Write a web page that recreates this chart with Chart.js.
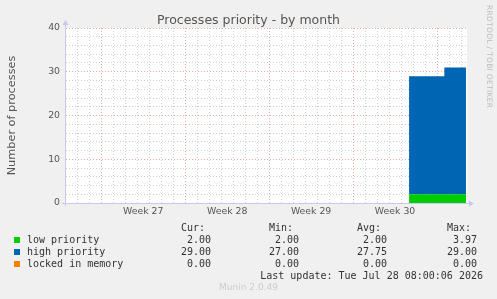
<!DOCTYPE html>
<html>
<head>
<meta charset="utf-8">
<script src="https://cdn.jsdelivr.net/npm/chart.js@4/dist/chart.umd.min.js"></script>
<style>
  body { margin: 0; background: #f0f0f0; }
  #wrap { position: relative; width: 497px; height: 299px; overflow: hidden; background: #f0f0f0; }
  #graph { position: absolute; left: 0; top: 0; }
  .txt { position: absolute; white-space: pre; }
  #title { left: 0; width: 497px; top: 12px; text-align: center; font: 12.5px "DejaVu Sans"; color: #555; }
  #credit { left: 485px; top: 5px; writing-mode: vertical-rl; font: 7.5px "DejaVu Sans"; color: #bbb; letter-spacing: 0.3px; }
  #version { left: 0; width: 497px; top: 282px; text-align: center; font: 9px "DejaVu Sans"; color: #ccc; }
  .leg { font: 10px "DejaVu Sans Mono"; color: #333; line-height: 12px; }
  .sq { position: absolute; width: 6px; height: 6px; }
</style>
</head>
<body>
<div id="wrap">
  <canvas id="graph" width="497" height="299"></canvas>
  <div class="txt" id="title">Processes priority - by month</div>
  <div class="txt" id="credit">RRDTOOL / TOBI OETIKER</div>
  <div class="txt" id="version">Munin 2.0.49</div>
  <div id="legend"></div>
</div>
<script>
// time axis in days, 0 = start of week 27 boundary (red line)
var days = [25.67, 28.61, 30.42];
var lowPriority = [2, 2, 2];
var highPriority = [27, 29, 29];
var lockedMemory = [0, 0, 0];

var weekPos = [3.5, 10.5, 17.5, 24.5];
var weekLabels = ["Week 27", "Week 28", "Week 29", "Week 30"];

var seriesNames = ["low priority", "high priority", "locked in memory"];
var seriesColors = ["#00cc00", "#0066b3", "#ff8000"];
var statCur = ["2.00", "29.00", "0.00"];
var statMin = ["2.00", "27.00", "0.00"];
var statAvg = ["2.00", "27.75", "0.00"];
var statMax = ["3.97", "29.00", "0.00"];

var X_MIN = -2.94, X_MAX = 30.5;

function pts(vals) {
  return vals.map(function (v, i) { return { x: days[i], y: v }; });
}

var axisLines = {
  id: "axisLines",
  afterDraw: function (chart) {
    var a = chart.chartArea, c = chart.ctx;
    c.save();
    c.strokeStyle = "#c8c8f0";
    c.fillStyle = "#c8c8f0";
    c.lineWidth = 1;
    c.beginPath();
    c.moveTo(a.left - 0.5, a.bottom + 3);
    c.lineTo(a.left - 0.5, a.top - 4);
    c.moveTo(a.left - 4, a.bottom + 0.5);
    c.lineTo(a.right + 3, a.bottom + 0.5);
    c.stroke();
    c.beginPath();
    c.moveTo(a.left - 3.5, a.top - 3);
    c.lineTo(a.left + 2.5, a.top - 3);
    c.lineTo(a.left - 0.5, a.top - 8);
    c.fill();
    c.beginPath();
    c.moveTo(a.right + 2, a.bottom - 2.5);
    c.lineTo(a.right + 2, a.bottom + 3.5);
    c.lineTo(a.right + 7, a.bottom + 0.5);
    c.fill();
    c.restore();
  }
};

var plotBg = {
  id: "plotBg",
  beforeDraw: function (chart) {
    var a = chart.chartArea, c = chart.ctx;
    c.save();
    c.fillStyle = "#ffffff";
    c.fillRect(a.left, a.top, a.right - a.left, a.bottom - a.top);
    c.restore();
  }
};

new Chart(document.getElementById("graph"), {
  type: "line",
  data: {
    datasets: [
      { label: seriesNames[0], data: pts(lowPriority), backgroundColor: seriesColors[0], borderWidth: 0, fill: "origin" },
      { label: seriesNames[1], data: pts(highPriority), backgroundColor: seriesColors[1], borderWidth: 0, fill: "-1" },
      { label: seriesNames[2], data: pts(lockedMemory), backgroundColor: seriesColors[2], borderWidth: 0, fill: "-1" }
    ]
  },
  plugins: [plotBg, axisLines],
  options: {
    responsive: false,
    animation: false,
    devicePixelRatio: 1,
    elements: { point: { radius: 0 }, line: { stepped: true, tension: 0 } },
    layout: { padding: { top: 28, right: 30, left: 0, bottom: 0 } },
    plugins: { legend: { display: false }, tooltip: { enabled: false }, title: { display: false } },
    scales: {
      x: {
        type: "linear", min: X_MIN, max: X_MAX, z: 1,
        afterBuildTicks: function (axis) {
          var t = [];
          for (var d = -2; d <= 30; d++) t.push({ value: d });
          axis.ticks = t;
        },
        afterFit: function (axis) { axis.height = 0; },
        ticks: { display: false, autoSkip: false },
        grid: {
          drawTicks: false,
          color: function (ctx) {
            return ctx.tick && ctx.tick.value % 7 === 0 ? "rgba(225,110,110,0.6)" : "rgba(150,150,150,0.45)";
          }
        },
        border: { display: false, dash: [1, 2] }
      },
      x2: {
        type: "linear", position: "bottom", min: X_MIN, max: X_MAX,
        afterBuildTicks: function (axis) {
          axis.ticks = weekPos.map(function (v) { return { value: v }; });
        },
        afterFit: function (axis) { axis.height = 96; },
        ticks: {
          autoSkip: false, maxRotation: 0, padding: 3,
          color: "#555", font: { family: "DejaVu Sans", size: 9.33 },
          callback: function (v, i) { return weekLabels[i]; }
        },
        grid: { display: false, drawTicks: false },
        border: { display: false }
      },
      y: {
        stacked: true, min: 0, max: 40, z: 1,
        afterFit: function (axis) { axis.width = 66; },
        ticks: {
          stepSize: 2, padding: 6, color: "#555", autoSkip: false,
          font: { family: "DejaVu Sans", size: 9.33 },
          callback: function (v) { return v % 10 === 0 ? String(v) : ""; }
        },
        grid: {
          drawTicks: false,
          color: function (ctx) {
            return ctx.tick && ctx.tick.value % 10 === 0 ? "rgba(225,110,110,0.6)" : "rgba(150,150,150,0.45)";
          }
        },
        border: { display: false, dash: [1, 2] },
        title: {
          display: true, text: "Number of processes", color: "#555",
          font: { family: "DejaVu Sans", size: 11.3 }, padding: { top: 5, bottom: 0 }
        }
      }
    }
  }
});

// legend table below the plot
var leg = document.getElementById("legend");
function addText(txt, right, top) {
  var d = document.createElement("div");
  d.className = "txt leg";
  d.textContent = txt;
  d.style.right = (497 - right) + "px";
  d.style.top = top + "px";
  leg.appendChild(d);
}
var colRight = [211, 299, 387, 477];
var heads = ["Cur: ", "Min: ", "Avg: ", "Max: "];
heads.forEach(function (h, i) { addText(h, colRight[i], 222); });
seriesNames.forEach(function (name, r) {
  var top = 234 + r * 12;
  var sq = document.createElement("div");
  sq.className = "sq";
  sq.style.left = "14px";
  sq.style.top = (top + 3) + "px";
  sq.style.background = seriesColors[r];
  leg.appendChild(sq);
  var n = document.createElement("div");
  n.className = "txt leg";
  n.textContent = name;
  n.style.left = "27px";
  n.style.top = top + "px";
  leg.appendChild(n);
  [statCur, statMin, statAvg, statMax].forEach(function (col, c) {
    addText(col[r], colRight[c], top);
  });
});
addText("Last update: Tue Jul 28 08:00:06 2026", 483, 270);
</script>
</body>
</html>
